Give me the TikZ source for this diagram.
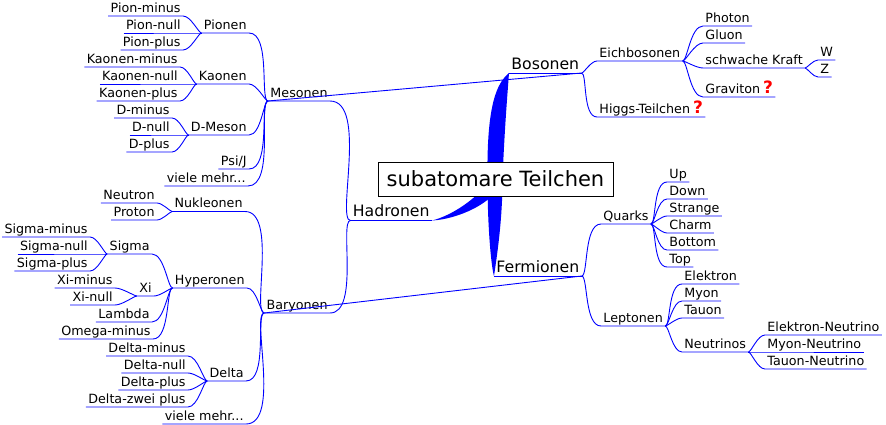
\documentclass[tikz,border=0pt]{standalone}
\usepackage{fontspec}
\setmainfont{DejaVu Sans}

\newcommand{\frage}{{\color{red}\fontsize{17}{17}\selectfont\bfseries ?}}

\tikzset{
  kn/.style={inner xsep=2pt, inner ysep=1pt, text height=9.5pt, text depth=2.5pt,
    font=\fontsize{12.7}{15}\selectfont, text=black},
  hn/.style={kn, text height=12pt, font=\fontsize{15.7}{18}\selectfont},
  rn/.style={kn, anchor=south west},
  ln/.style={kn, anchor=south east},
  rfork/.style={out=0, in=180, out looseness=0.3, in looseness=0.8},
  lfork/.style={out=0, in=180, out looseness=0.8, in looseness=0.3},
}

\begin{document}
\begin{tikzpicture}[x=1pt,y=-1pt,line width=0.9pt]
\useasboundingbox (0,0) rectangle (886,425);
\coordinate (mitte) at (495.5,179);

% erste Ebene
\node[hn,anchor=south west] (bosonen) at (509,73) {Bosonen};
\node[hn,anchor=south west] (fermionen) at (494,276) {Fermionen};
\node[hn,anchor=south east] (hadronen) at (432,220.5) {Hadronen};

% Bosonen
\node[rn] (eichbosonen) at (597,61) {Eichbosonen};
\node[rn] (higgs) at (597,117) {Higgs-Teilchen\hspace{3pt}\frage};
\node[rn] (photon) at (703,26) {Photon};
\node[rn] (gluon) at (703,43) {Gluon};
\node[rn] (schwach) at (703,68) {schwache Kraft};
\node[rn] (graviton) at (703,97) {Graviton\hspace{3pt}\frage};
\node[rn] (wboson) at (818,60) {W};
\node[rn] (zboson) at (818,77) {Z};

% Fermionen
\node[rn] (quarks) at (601,224) {Quarks};
\node[rn] (leptonen) at (601,326) {Leptonen};
\node[rn] (up) at (667,182) {Up};
\node[rn] (down) at (667,199) {Down};
\node[rn] (strange) at (667,216) {Strange};
\node[rn] (charm) at (667,233) {Charm};
\node[rn] (bottom) at (667,250) {Bottom};
\node[rn] (top) at (667,267) {Top};
\node[rn] (elektron) at (682,284) {Elektron};
\node[rn] (myon) at (682,301) {Myon};
\node[rn] (tauon) at (682,318) {Tauon};
\node[rn] (neutrinos) at (682,352) {Neutrinos};
\node[rn] (eneutrino) at (765,335) {Elektron-Neutrino};
\node[rn] (mneutrino) at (765,352) {Myon-Neutrino};
\node[rn] (tneutrino) at (765,369) {Tauon-Neutrino};

% Hadronen
\node[ln] (mesonen) at (330,101) {Mesonen};
\node[ln] (baryonen) at (330,313) {Baryonen};

\node[ln] (pionen) at (249,33) {Pionen};
\node[ln] (pionminus) at (183,16) {Pion-minus};
\node[ln] (pionnull) at (183,33) {Pion-null};
\node[ln] (pionplus) at (183,50) {Pion-plus};
\node[ln] (kaonen) at (249,84) {Kaonen};
\node[ln] (kaonenminus) at (180,67) {Kaonen-minus};
\node[ln] (kaonennull) at (180,84) {Kaonen-null};
\node[ln] (kaonenplus) at (180,101) {Kaonen-plus};
\node[ln] (dmeson) at (249,135) {D-Meson};
\node[ln] (dminus) at (172,118) {D-minus};
\node[ln] (dnull) at (172,135) {D-null};
\node[ln] (dplus) at (172,152) {D-plus};
\node[ln] (psij) at (249,169) {Psi/J};
\node[ln] (mehrm) at (248,186) {viele mehr...};

\node[ln] (nukleonen) at (245,211.5) {Nukleonen};
\node[ln] (neutron) at (157,203) {Neutron};
\node[ln] (proton) at (157,220) {Proton};
\node[ln] (hyperonen) at (247,288) {Hyperonen};
\node[ln] (sigma) at (152,254) {Sigma};
\node[ln] (sigmaminus) at (90,237) {Sigma-minus};
\node[ln] (sigmanull) at (90,254) {Sigma-null};
\node[ln] (sigmaplus) at (90,271) {Sigma-plus};
\node[ln] (xi) at (154,296) {Xi};
\node[ln] (ximinus) at (115,288) {Xi-minus};
\node[ln] (xinull) at (115,305) {Xi-null};
\node[ln] (lambda) at (152,322) {Lambda};
\node[ln] (omega) at (153,339) {Omega-minus};
\node[ln] (delta) at (246,381) {Delta};
\node[ln] (deltaminus) at (188,356) {Delta-minus};
\node[ln] (deltanull) at (188,373) {Delta-null};
\node[ln] (deltaplus) at (188,390) {Delta-plus};
\node[ln] (deltazwei) at (188,407) {Delta-zwei plus};
\node[ln] (mehrb) at (246,424) {viele mehr...};

% Linien
\foreach \n in {bosonen,fermionen,hadronen}
  \draw[blue] (\n.south west) -- (\n.south east);
\foreach \p/\c in {bosonen/eichbosonen, bosonen/higgs, eichbosonen/photon,
    eichbosonen/gluon, eichbosonen/schwach, eichbosonen/graviton,
    schwach/wboson, schwach/zboson, fermionen/quarks, fermionen/leptonen,
    quarks/up, quarks/down, quarks/strange, quarks/charm, quarks/bottom,
    quarks/top, leptonen/elektron, leptonen/myon, leptonen/tauon,
    leptonen/neutrinos, neutrinos/eneutrino, neutrinos/mneutrino,
    neutrinos/tneutrino}
  \draw[blue] (\p.south east) to[rfork] (\c.south west) -- (\c.south east);
\foreach \p/\c in {hadronen/mesonen, hadronen/baryonen, mesonen/pionen,
    mesonen/kaonen, mesonen/dmeson, mesonen/psij, mesonen/mehrm,
    pionen/pionminus, pionen/pionnull, pionen/pionplus, kaonen/kaonenminus,
    kaonen/kaonennull, kaonen/kaonenplus, dmeson/dminus, dmeson/dnull,
    dmeson/dplus, baryonen/nukleonen, baryonen/hyperonen, baryonen/delta,
    baryonen/mehrb, nukleonen/neutron, nukleonen/proton, hyperonen/sigma,
    hyperonen/xi, hyperonen/lambda, hyperonen/omega, sigma/sigmaminus,
    sigma/sigmanull, sigma/sigmaplus, xi/ximinus, xi/xinull,
    delta/deltaminus, delta/deltanull, delta/deltaplus, delta/deltazwei}
  \draw[blue] (\c.south west) -- (\c.south east) to[lfork] (\p.south west);

% Querverbindungen
\draw[blue] (mesonen.south west) -- (bosonen.south east);
\draw[blue] (baryonen.south west) -- (fermionen.south east);

% dicke Zweige
\fill[blue] ([xshift=-8pt]mitte) .. controls +(-1,-75) and +(-12,10) .. (bosonen.south west)
  .. controls +(-2,27) and +(2,-49) .. ([xshift=7pt]mitte) -- cycle;
\fill[blue] ([xshift=-8pt]mitte) .. controls +(0,51) and +(-2.5,-8) .. (fermionen.south west)
  .. controls +(5.5,-36) and +(0,31) .. ([xshift=7pt]mitte) -- cycle;
\fill[blue] ([xshift=-4pt]mitte) .. controls +(-15,20) and +(20,-5) .. (hadronen.south east)
  .. controls +(24,-1) and +(-4,24) .. ([xshift=6pt]mitte) -- cycle;

\node[draw=black, fill=white, line width=0.9pt, minimum width=235pt, minimum height=34pt,
  inner sep=0pt, font=\fontsize{21}{25}\selectfont] (root) at (mitte) {subatomare Teilchen};
\end{tikzpicture}
\end{document}
